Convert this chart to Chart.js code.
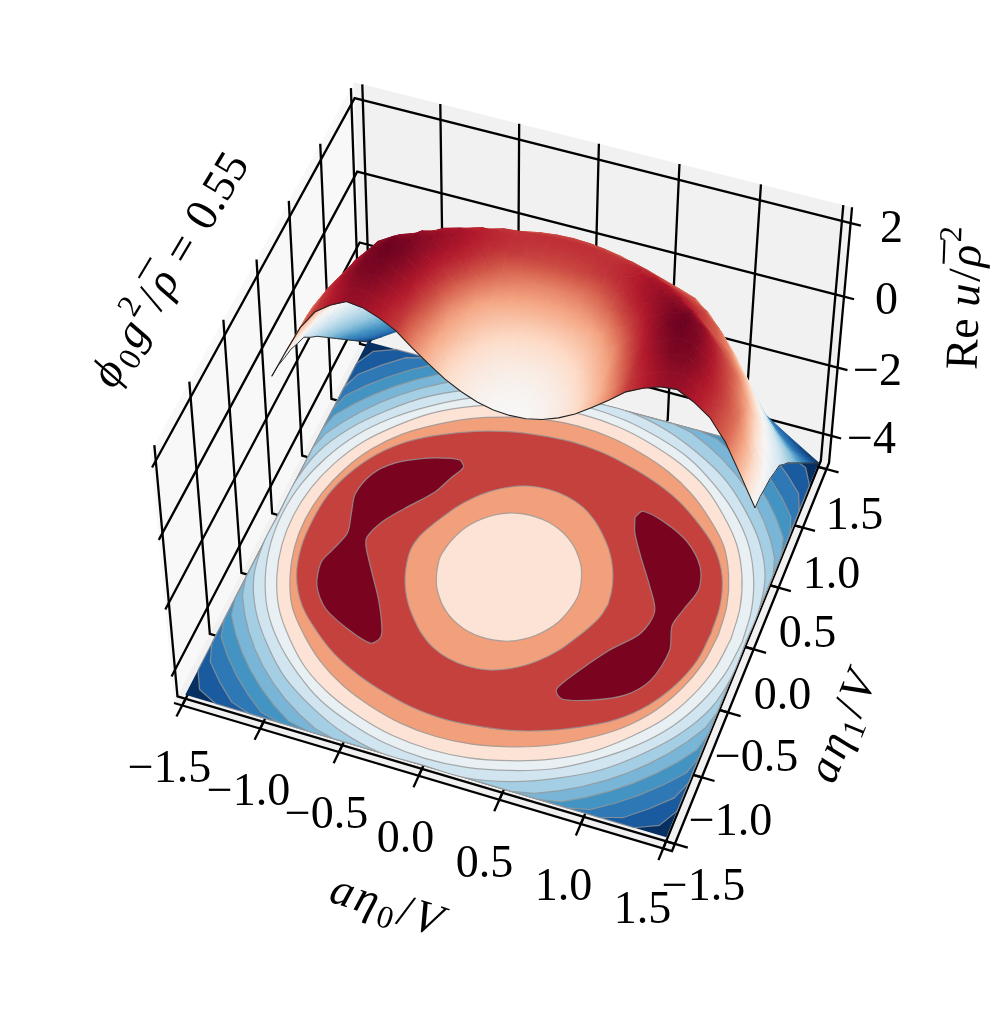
<!DOCTYPE html>
<html>
<head>
<meta charset="utf-8">
<title>Re u surface</title>
<script src="https://cdn.jsdelivr.net/npm/chart.js@4/dist/chart.umd.min.js"></script>
<style>
html, body { margin: 0; background: #fff; }
canvas { display: block; }
</style>
</head>
<body>
<canvas id="myChart" width="1005" height="1012"></canvas>
<script>
// tick values and labels
var eta0Ticks = [-1.5, -1, -0.5, 0, 0.5, 1, 1.5];
var eta1Ticks = [-1.5, -1, -0.5, 0, 0.5, 1, 1.5];
var zTicks = [-4, -2, 0, 2];
var eta0TickLabels = ["\u22121.5", "\u22121.0", "\u22120.5", "0.0", "0.5", "1.0", "1.5"];
var eta1TickLabels = ["\u22121.5", "\u22121.0", "\u22120.5", "0.0", "0.5", "1.0", "1.5"];
var zTickLabels = ["\u22124", "\u22122", "0", "2"];

// surface heights, eta0 = 0, 0.1 .. 1.5 (left half mirrors it), one row per eta1 = 0, 0.1 .. 1.5
var surfaceZ = [
  [0, 0.03, 0.13, 0.30, 0.53, 0.83, 1.15, 1.50, 1.72, 1.88, 1.93, 1.72, 1.42, 0.87, 0.09, -0.72],
  [0.03, 0.06, 0.15, 0.33, 0.56, 0.86, 1.19, 1.54, 1.78, 1.96, 2.00, 1.76, 1.43, 0.85, 0.06, -0.75],
  [0.10, 0.15, 0.23, 0.41, 0.67, 0.95, 1.28, 1.64, 1.88, 2.10, 2.13, 1.85, 1.40, 0.79, -0.03, -0.86],
  [0.23, 0.26, 0.36, 0.53, 0.78, 1.03, 1.38, 1.72, 2.00, 2.20, 2.15, 1.78, 1.27, 0.61, -0.25, -0.95],
  [0.42, 0.45, 0.54, 0.70, 0.90, 1.15, 1.48, 1.82, 2.12, 2.27, 2.10, 1.66, 1.08, 0.38, -0.45, -1.12],
  [0.66, 0.68, 0.76, 0.87, 1.06, 1.35, 1.62, 1.92, 2.12, 2.20, 1.95, 1.42, 0.87, 0.13, -0.60, -1.27],
  [0.95, 0.97, 1.02, 1.12, 1.30, 1.55, 1.78, 1.98, 2.08, 1.93, 1.50, 1.08, 0.52, -0.20, -0.92, -1.60],
  [1.15, 1.17, 1.22, 1.33, 1.50, 1.70, 1.87, 1.94, 1.83, 1.50, 1.12, 0.72, 0.16, -0.55, -1.28, -1.90],
  [1.42, 1.44, 1.47, 1.55, 1.64, 1.74, 1.82, 1.70, 1.48, 1.30, 0.95, 0.33, -0.28, -1.00, -1.70, -2.25],
  [1.55, 1.55, 1.57, 1.60, 1.64, 1.63, 1.50, 1.32, 1.20, 0.95, 0.45, -0.12, -0.83, -1.55, -2.10, -2.60],
  [1.50, 1.50, 1.47, 1.44, 1.40, 1.28, 1.14, 1.00, 0.85, 0.45, -0.20, -0.75, -1.40, -2.05, -2.57, -2.95],
  [1.27, 1.25, 1.20, 1.12, 1.00, 0.85, 0.67, 0.55, 0.25, -0.25, -0.85, -1.35, -1.98, -2.53, -2.97, -3.30],
  [0.90, 0.88, 0.80, 0.70, 0.58, 0.42, 0.20, -0.10, -0.48, -0.95, -1.47, -2.00, -2.50, -3.00, -3.40, -3.65],
  [0.45, 0.43, 0.35, 0.25, 0.07, -0.15, -0.45, -0.80, -1.20, -1.65, -2.10, -2.55, -3.00, -3.45, -3.78, -4.00],
  [-0.20, -0.24, -0.30, -0.45, -0.65, -0.90, -1.20, -1.55, -1.90, -2.30, -2.68, -3.07, -3.47, -3.82, -4.13, -4.35],
  [-0.95, -0.98, -1.05, -1.20, -1.38, -1.60, -1.88, -2.18, -2.50, -2.85, -3.22, -3.57, -3.87, -4.15, -4.42, -4.69]
];

// floor contours, radius at even angles over half a turn (the other half repeats it)
var ring1 = [2.03, 2.03, 2.03, 2.03, 2.03, 2.03, 2.03, 2.03, 2.03, 2.03, 2.03, 2.03, 2.03, 2.03, 2.03, 2.03, 2.03, 2.03, 2.03, 2.03, 2.03, 2.03, 2.03, 2.03, 2.03, 2.03, 2.03, 2.03, 2.03, 2.03, 2.03, 2.03, 2.03, 2.03, 2.03, 2.03];
var ring2 = [1.90, 1.90, 1.90, 1.90, 1.90, 1.90, 1.90, 1.90, 1.90, 1.90, 1.90, 1.90, 1.90, 1.90, 1.90, 1.90, 1.90, 1.90, 1.90, 1.90, 1.90, 1.90, 1.90, 1.90, 1.90, 1.90, 1.90, 1.90, 1.90, 1.90, 1.90, 1.90, 1.90, 1.90, 1.90, 1.90];
var ring3 = [1.79, 1.79, 1.79, 1.79, 1.79, 1.79, 1.79, 1.79, 1.79, 1.79, 1.79, 1.79, 1.79, 1.79, 1.79, 1.79, 1.79, 1.79, 1.79, 1.79, 1.79, 1.79, 1.79, 1.79, 1.79, 1.79, 1.79, 1.79, 1.79, 1.79, 1.79, 1.79, 1.79, 1.79, 1.79, 1.79];
var ring4 = [1.70, 1.70, 1.70, 1.70, 1.70, 1.70, 1.70, 1.70, 1.70, 1.70, 1.70, 1.70, 1.70, 1.70, 1.70, 1.70, 1.70, 1.70, 1.70, 1.70, 1.70, 1.70, 1.70, 1.70, 1.70, 1.70, 1.70, 1.70, 1.70, 1.70, 1.70, 1.70, 1.70, 1.70, 1.70, 1.70];
var ring5 = [1.62, 1.62, 1.62, 1.62, 1.62, 1.62, 1.62, 1.62, 1.62, 1.62, 1.62, 1.62, 1.62, 1.62, 1.62, 1.62, 1.62, 1.62, 1.62, 1.62, 1.62, 1.62, 1.62, 1.62, 1.62, 1.62, 1.62, 1.62, 1.62, 1.62, 1.62, 1.62, 1.62, 1.62, 1.62, 1.62];
var ring6 = [1.55, 1.55, 1.55, 1.55, 1.54, 1.54, 1.53, 1.53, 1.53, 1.53, 1.53, 1.53, 1.53, 1.54, 1.54, 1.55, 1.55, 1.55];
var ring7 = [1.48, 1.48, 1.48, 1.48, 1.47, 1.46, 1.46, 1.45, 1.45, 1.45, 1.45, 1.45, 1.46, 1.46, 1.47, 1.48, 1.48, 1.48];
var ring8 = [1.41, 1.41, 1.41, 1.41, 1.40, 1.40, 1.39, 1.38, 1.38, 1.38, 1.38, 1.38, 1.39, 1.40, 1.40, 1.41, 1.41, 1.41];
var ring9 = [1.33, 1.33, 1.33, 1.33, 1.31, 1.30, 1.29, 1.28, 1.28, 1.28, 1.28, 1.28, 1.29, 1.30, 1.32, 1.33, 1.33, 1.33];
var ring10 = [1.285, 1.29, 1.29, 1.27, 1.23, 1.20, 1.17, 1.15, 1.145, 1.145, 1.145, 1.16, 1.18, 1.21, 1.25, 1.275, 1.285, 1.29];
var ring11 = [0.635, 0.63, 0.63, 0.635, 0.645, 0.66, 0.685, 0.71, 0.725, 0.73, 0.725, 0.705, 0.68, 0.655, 0.635, 0.62, 0.62, 0.63];
var ring12 = [0.445, 0.44, 0.44, 0.445, 0.45, 0.46, 0.47, 0.48, 0.49, 0.495, 0.498, 0.498, 0.49, 0.48, 0.47, 0.46, 0.45, 0.445];

// the two darkest patches on the floor, as eta0 / eta1 outlines
var leftPatchEta0 = [-0.596, -0.559, -0.603, -0.659, -0.786, -0.878, -0.921, -0.899, -0.793, -0.671, -0.573, -0.568, -0.607, -0.759, -0.954, -1.068, -1.113, -1.083, -1.046, -1.080, -1.114, -1.074, -0.973, -0.815, -0.659];
var leftPatchEta1 = [0.768, 0.722, 0.612, 0.466, 0.285, 0.136, -0.005, -0.080, -0.255, -0.453, -0.658, -0.719, -0.765, -0.717, -0.612, -0.468, -0.288, -0.170, -0.017, 0.137, 0.292, 0.477, 0.607, 0.706, 0.762];
var rightPatchEta0 = [0.570, 0.600, 0.752, 0.930, 1.064, 1.112, 1.076, 1.048, 1.093, 1.057, 0.950, 0.776, 0.610, 0.556, 0.586, 0.751, 0.890, 0.916, 0.826, 0.702, 0.609];
var rightPatchEta1 = [0.699, 0.761, 0.723, 0.623, 0.466, 0.297, 0.123, -0.022, -0.212, -0.459, -0.614, -0.716, -0.768, -0.719, -0.630, -0.335, -0.143, 0.042, 0.217, 0.417, 0.581];

// view: pixel positions of the lower box corners and the point the verticals run to
var corners = { a: [174, 703], b: [672, 851], c: [829, 463], d: [363, 338] };
var vertical = [496, 4156];
var zSlope = 0.00937, zAtZero = 0.0451;
var floorZ = -4.813, topZ = 2.42, contourZ = -4.69;
var dataLimit = 1.5528;

var bandColors = ["#053061", "#1a5a9e", "#2e78b6", "#4393c3", "#79b5d6", "#a4cee4", "#d1e5f0", "#e8f0f4", "#fce3d5", "#f1a07b", "#c5413d", "#f1a07b", "#fce3d5"];
var patchColor = "#7a0420";
var rdbu = ["#053061", "#2166ac", "#4393c3", "#92c5de", "#d1e5f0", "#f7f7f7", "#fddbc7", "#f4a582", "#d6604d", "#b2182b", "#67001f"];
var innerHeights = [0, 0.3, 0.64, 1.0, 1.27, 1.5, 1.7, 1.9, 2.1, 2.3];
var innerTones = [0.5, 0.55, 0.62, 0.7, 0.78, 0.85, 0.89, 0.93, 0.97, 1];
var outerHeights = [-4.69, -4.4, -3.77, -3.14, -2.5, -1.88, -1.25, -0.62, 0, 0.64, 1.27, 1.5, 1.9, 2.3];
var outerTones = [0, 0.04, 0.12, 0.2, 0.28, 0.35, 0.42, 0.5, 0.64, 0.76, 0.84, 0.87, 0.93, 1];

// square to quad
var sx = corners.a[0] - corners.b[0] + corners.c[0] - corners.d[0];
var sy = corners.a[1] - corners.b[1] + corners.c[1] - corners.d[1];
var dx1 = corners.b[0] - corners.c[0], dx2 = corners.d[0] - corners.c[0];
var dy1 = corners.b[1] - corners.c[1], dy2 = corners.d[1] - corners.c[1];
var den = dx1 * dy2 - dx2 * dy1;
var g = (sx * dy2 - dx2 * sy) / den;
var h = (dx1 * sy - sx * dy1) / den;
var m = {
    a: corners.b[0] - corners.a[0] + g * corners.b[0],
    b: corners.d[0] - corners.a[0] + h * corners.d[0],
    d: corners.b[1] - corners.a[1] + g * corners.b[1],
    e: corners.d[1] - corners.a[1] + h * corners.d[1]
};

function projectBox(u, v, z) {
    var k = -zAtZero - zSlope * z;
    var w = 1 + g * u + h * v + k;
    return {
        x: (m.a * u + m.b * v + corners.a[0] + k * vertical[0]) / w,
        y: (m.d * u + m.e * v + corners.a[1] + k * vertical[1]) / w,
        depth: w
    };
}
function toBox(val) { return (val + dataLimit) / (2 * dataLimit); }
function project(eta0, eta1, z) { return projectBox(toBox(eta0), toBox(eta1), z); }

var canvas = document.getElementById("myChart");
var paint = canvas.getContext("2d");

var datasets = [];
function addLine(points, color, width) {
    datasets.push({
        data: points, showLine: true, fill: false, borderColor: color, borderWidth: width,
        pointRadius: 0, pointHitRadius: 0, tension: 0, clip: false, order: -datasets.length
    });
}
function addShape(points, color, edge, width, curve) {
    var closed = points.concat([points[0]]);
    datasets.push({
        data: closed, showLine: true, fill: "shape", backgroundColor: color, borderColor: edge, borderWidth: width,
        pointRadius: 0, pointHitRadius: 0, tension: curve || 0, clip: false, order: -datasets.length
    });
}

// panes
addShape([projectBox(0, 0, floorZ), projectBox(0, 1, floorZ), projectBox(0, 1, topZ), projectBox(0, 0, topZ)], "#f8f8f8", "#f8f8f8", 0);
addShape([projectBox(0, 1, floorZ), projectBox(1, 1, floorZ), projectBox(1, 1, topZ), projectBox(0, 1, topZ)], "#f1f1f1", "#f1f1f1", 0);
addShape([projectBox(0, 0, floorZ), projectBox(1, 0, floorZ), projectBox(1, 1, floorZ), projectBox(0, 1, floorZ)], "#f1f1f1", "#f1f1f1", 0);

// grid
var ink = 2.3;
eta0Ticks.forEach(function (t) {
    addLine([projectBox(toBox(t), 0, floorZ), projectBox(toBox(t), 1, floorZ), projectBox(toBox(t), 1, topZ)], "#000", ink);
});
eta1Ticks.forEach(function (t) {
    addLine([projectBox(1, toBox(t), floorZ), projectBox(0, toBox(t), floorZ), projectBox(0, toBox(t), topZ)], "#000", ink);
});
zTicks.forEach(function (t) {
    addLine([projectBox(0, 0, t), projectBox(0, 1, t), projectBox(1, 1, t)], "#000", ink);
});

// axis lines and tick marks
addLine([projectBox(0, 0, floorZ), projectBox(1, 0, floorZ), projectBox(1, 1, floorZ), projectBox(1, 1, topZ)], "#000", ink);
eta0Ticks.forEach(function (t) {
    addLine([projectBox(toBox(t), 0.02, floorZ), projectBox(toBox(t), -0.028, floorZ)], "#000", ink);
});
eta1Ticks.forEach(function (t) {
    addLine([projectBox(0.98, toBox(t), floorZ), projectBox(1.025, toBox(t), floorZ)], "#000", ink);
});
zTicks.forEach(function (t) {
    addLine([projectBox(1, 1, t), projectBox(1.02, 1, t)], "#000", ink);
});

// floor contours
function clampSide(v) { return Math.max(-1.5, Math.min(1.5, v)); }
function ringPoints(radii) {
    var pts = [], n = radii.length * 2;
    for (var i = 0; i < n; i++) {
        var r = radii[i % radii.length], t = i * 2 * Math.PI / n;
        pts.push(project(clampSide(r * Math.cos(t)), clampSide(r * Math.sin(t)), contourZ));
    }
    return pts;
}
var edgeGrey = "rgba(150,150,150,0.8)";
addShape([project(-1.5, -1.5, contourZ), project(1.5, -1.5, contourZ), project(1.5, 1.5, contourZ), project(-1.5, 1.5, contourZ)], bandColors[0], bandColors[0], 0);
[ring1, ring2, ring3, ring4, ring5, ring6, ring7, ring8, ring9, ring10, ring11, ring12].forEach(function (radii, i) {
    addShape(ringPoints(radii), bandColors[i + 1], edgeGrey, 1.2, i < 5 ? 0 : 0.35);
});
function patchPoints(xs, ys) {
    return xs.map(function (x, i) { return project(x, ys[i], contourZ); });
}
addShape(patchPoints(leftPatchEta0, leftPatchEta1), patchColor, edgeGrey, 1.2, 0.3);
addShape(patchPoints(rightPatchEta0, rightPatchEta1), patchColor, edgeGrey, 1.2, 0.3);

// surface
function heightAt(i, j) { return surfaceZ[j][Math.abs(i - 15)]; }
function surfacePoint(i, j) { return project((i - 15) / 10, j / 10, heightAt(i, j)); }

function lookup(xs, ys, x) {
    if (x <= xs[0]) return ys[0];
    for (var i = 1; i < xs.length; i++) {
        if (x <= xs[i]) return ys[i - 1] + (ys[i] - ys[i - 1]) * (x - xs[i - 1]) / (xs[i] - xs[i - 1]);
    }
    return ys[ys.length - 1];
}
function hexPart(hex, at) { return parseInt(hex.substr(at, 2), 16); }
function toneColor(t) {
    var p = Math.max(0, Math.min(0.9999, t)) * 10, n = Math.floor(p), f = p - n;
    var c0 = rdbu[n], c1 = rdbu[n + 1];
    var c = [1, 3, 5].map(function (at) { return Math.round(hexPart(c0, at) + (hexPart(c1, at) - hexPart(c0, at)) * f); });
    return "rgb(" + c.join(",") + ")";
}
function toneAt(i, j) {
    var ca = (i - 15) / 10, cb = j / 10;
    var z = heightAt(i, j);
    return Math.sqrt(ca * ca + cb * cb) < 1 ? lookup(innerHeights, innerTones, z) : lookup(outerHeights, outerTones, z);
}
// shades one cell along the way its corner tones change on screen
function cellPaint(pts, tones) {
    var lo = Math.min.apply(null, tones), hi = Math.max.apply(null, tones);
    var mean = (tones[0] + tones[1] + tones[2] + tones[3]) / 4;
    var ax = pts[2].x - pts[0].x, ay = pts[2].y - pts[0].y, bx = pts[3].x - pts[1].x, by = pts[3].y - pts[1].y;
    var det = ax * by - ay * bx;
    if (Math.abs(det) < 4 || hi - lo < 0.002) return toneColor(mean);
    var at = tones[2] - tones[0], bt = tones[3] - tones[1];
    var gx = (at * by - bt * ay) / det, gy = (bt * ax - at * bx) / det;
    var len = gx * gx + gy * gy;
    if (len === 0) return toneColor(mean);
    var cx = (pts[0].x + pts[1].x + pts[2].x + pts[3].x) / 4, cy = (pts[0].y + pts[1].y + pts[2].y + pts[3].y) / 4;
    var grad = paint.createLinearGradient(cx + gx * (lo - mean) / len, cy + gy * (lo - mean) / len, cx + gx * (hi - mean) / len, cy + gy * (hi - mean) / len);
    for (var s = 0; s <= 4; s++) grad.addColorStop(s / 4, toneColor(lo + (hi - lo) * s / 4));
    return grad;
}

var quads = [];
for (var j = 0; j < 15; j++) {
    for (var i = 0; i < 30; i++) {
        var pts = [surfacePoint(i, j), surfacePoint(i + 1, j), surfacePoint(i + 1, j + 1), surfacePoint(i, j + 1)];
        var tones = [toneAt(i, j), toneAt(i + 1, j), toneAt(i + 1, j + 1), toneAt(i, j + 1)];
        quads.push({ pts: pts, fill: cellPaint(pts, tones), depth: (pts[0].depth + pts[1].depth + pts[2].depth + pts[3].depth) / 4 });
    }
}
quads.sort(function (p, q) { return q.depth - p.depth; });
quads.forEach(function (q) { addShape(q.pts, q.fill, q.fill, 0.8); });

// surface outline
var frontEdge = [], leftEdge = [], rightEdge = [];
for (var e = 0; e <= 30; e++) frontEdge.push(surfacePoint(e, 0));
for (var s = 0; s <= 15; s++) { leftEdge.push(surfacePoint(0, s)); rightEdge.push(surfacePoint(30, s)); }
addLine(leftEdge, "#333", 1);
addLine(rightEdge, "#333", 1);
addLine(frontEdge, "#222", 1.1);

// text
var roman = '46px "Liberation Serif"';
var italic = 'italic 46px "Liberation Serif"';
var small = '32px "Liberation Serif"';

var xLabelSpots = [[170, 767], [249, 790], [327, 813], [406, 837], [485, 862], [564, 885], [643, 908]];
var yLabelSpots = [[704, 885], [731, 820], [757, 756], [783, 694], [808, 632], [832, 573], [855, 514]];
var zLabelSpots = [[872, 438], [878, 370], [887, 299], [892, 227]];

var labelPlugin = {
    id: "labels3d",
    afterDraw: function (chart) {
        var ctx = chart.ctx;
        function runs(parts, x, y, angle, gap) {
            var total = 0;
            parts.forEach(function (p) {
                ctx.font = p.font;
                total += ctx.measureText(p.text).width + gap;
            });
            ctx.save();
            ctx.translate(x, y);
            ctx.rotate(angle * Math.PI / 180);
            ctx.textBaseline = "alphabetic";
            ctx.textAlign = "left";
            ctx.fillStyle = "#000";
            var at = -total / 2;
            parts.forEach(function (p) {
                ctx.font = p.font;
                var wide = ctx.measureText(p.text).width;
                ctx.fillText(p.text, at, 15 + (p.dy || 0));
                if (p.bar) {
                    ctx.font = roman;
                    ctx.fillText("\u00af", at + wide / 2 - ctx.measureText("\u00af").width / 2 + 3, 12);
                }
                at += wide + gap;
            });
            ctx.restore();
        }
        function tick(text, spot) {
            runs([{ text: text, font: roman }], spot[0], spot[1], 0, 1);
        }
        eta0TickLabels.forEach(function (t, i) { tick(t, xLabelSpots[i]); });
        eta1TickLabels.forEach(function (t, i) { tick(t, yLabelSpots[i]); });
        zTickLabels.forEach(function (t, i) { tick(t, zLabelSpots[i]); });
        runs([{ text: "a", font: italic }, { text: "\u03b7", font: italic }, { text: "0", font: small, dy: 8 }, { text: "/", font: roman }, { text: "V", font: italic }], 388, 905, 18, 3);
        runs([{ text: "a", font: italic }, { text: "\u03b7", font: italic }, { text: "1", font: small, dy: 8 }, { text: "/", font: roman }, { text: "V", font: italic }], 842, 725, -68, 3);
        runs([{ text: "Re", font: roman }, { text: " ", font: small }, { text: "u", font: italic }, { text: "/", font: roman }, { text: "\u03c1", font: italic, bar: true }, { text: "2", font: small, dy: -20 }], 964, 297, -88, 2);
        runs([{ text: "\u03d5", font: italic }, { text: "0", font: small, dy: 8 }, { text: "g", font: italic }, { text: "2", font: small, dy: -20 }, { text: "/", font: roman }, { text: "\u03c1", font: italic, bar: true }, { text: " = ", font: roman }, { text: "0.55", font: roman }], 170, 268, -59, 3);
    }
};

new Chart(canvas, {
    type: "scatter",
    data: { datasets: datasets },
    options: {
        responsive: false,
        animation: false,
        events: [],
        layout: { padding: 0 },
        plugins: { legend: { display: false }, tooltip: { enabled: false } },
        scales: {
            x: { type: "linear", min: 0, max: 1005, display: false },
            y: { type: "linear", min: 0, max: 1012, reverse: true, display: false }
        }
    },
    plugins: [labelPlugin]
});
</script>
</body>
</html>
